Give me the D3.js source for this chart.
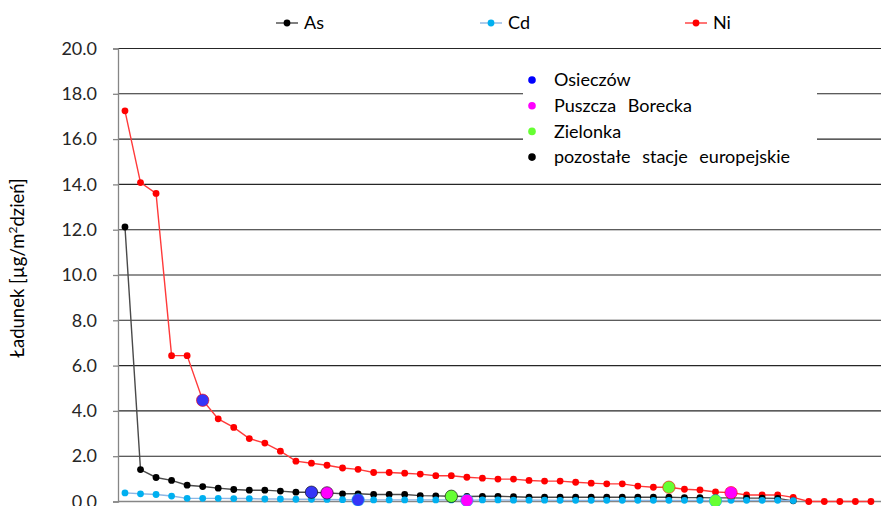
<!DOCTYPE html>
<html>
<head>
<meta charset="utf-8">
<script src="https://cdn.jsdelivr.net/npm/d3@7/dist/d3.min.js"></script>
<style>
  html, body { margin: 0; padding: 0; background: #fff; }
  svg { display: block; font-family: Lato, "Open Sans", sans-serif; }
</style>
</head>
<body>
<svg id="chart" width="881" height="506"></svg>
<script>
// Station ranks along the x axis (each series sorted in descending order)
const ranks = d3.range(1, 50);

// Deposition [µg/m²·day] per series, sorted descending
const niValues = [17.25, 14.08, 13.60, 6.44, 6.44, 4.47, 3.65, 3.27, 2.78, 2.58,
  2.22, 1.78, 1.69, 1.60, 1.48, 1.42, 1.28, 1.28, 1.25, 1.21,
  1.14, 1.14, 1.07, 1.03, 0.99, 0.99, 0.93, 0.90, 0.90, 0.85,
  0.81, 0.78, 0.78, 0.68, 0.63, 0.63, 0.54, 0.51, 0.42, 0.39,
  0.29, 0.29, 0.29, 0.18, 0.00, 0.00, 0.00, 0.00, 0.00];
const asValues = [12.12, 1.41, 1.06, 0.93, 0.72, 0.66, 0.59, 0.53, 0.50, 0.50,
  0.46, 0.41, 0.41, 0.38, 0.34, 0.34, 0.31, 0.31, 0.31, 0.26,
  0.25, 0.23, 0.22, 0.23, 0.23, 0.21, 0.19, 0.19, 0.19, 0.19,
  0.19, 0.19, 0.19, 0.19, 0.19, 0.19, 0.17, 0.17, 0.16, 0.16,
  0.15, 0.15, 0.14, 0.03];
const cdValues = [0.38, 0.34, 0.31, 0.24, 0.14, 0.14, 0.14, 0.13, 0.13, 0.11,
  0.11, 0.10, 0.10, 0.09, 0.08, 0.07, 0.07, 0.07, 0.07, 0.07,
  0.07, 0.07, 0.05, 0.07, 0.07, 0.06, 0.06, 0.06, 0.05, 0.05,
  0.05, 0.05, 0.05, 0.05, 0.05, 0.05, 0.05, 0.05, 0.03, 0.05,
  0.05, 0.05, 0.05, 0.04];

// Highlighted stations and their position (0-based rank) in each series
const stationNames = ["Osieczów", "Puszcza Borecka", "Zielonka", "pozostałe stacje europejskie"];
const stationColors = ["#0000FF", "#FF00FF", "#66FF33", "#000000"];
const markerFills = ["#3535F8", "#FF00FF", "#66FF33"];
const niStations = [5, 39, 35];
const asStations = [12, 13, 21];
const cdStations = [15, 22, 38];

const yTicks = [0, 2, 4, 6, 8, 10, 12, 14, 16, 18, 20];

const seriesNames = ["As", "Cd", "Ni"];
const seriesColors = ["#000000", "#00B0F0", "#FF0000"];
const lineColors = ["#4a4a4a", "#8DB6E4", "#FF3A3A"];

const svg = d3.select("#chart");

const x = d3.scaleBand().domain(ranks).range([117.2, 878.7]).padding(0);
const y = d3.scaleLinear().domain([0, 20]).range([501.5, 48.5]);
const cx = i => x(ranks[i]) + x.bandwidth() / 2;

// Horizontal gridlines
svg.append("g")
  .selectAll("line")
  .data(yTicks.filter(t => t > 0))
  .join("line")
  .attr("x1", 118).attr("x2", 881)
  .attr("y1", d => y(d)).attr("y2", d => y(d))
  .attr("stroke", "#262626").attr("stroke-width", 1.1);

// Y axis
const yAxis = d3.axisLeft(y).tickValues(yTicks).tickFormat(d3.format(".1f")).tickSize(5).tickPadding(16);
const gy = svg.append("g").attr("transform", "translate(118,0)").call(yAxis);
gy.select(".domain").attr("stroke", "#868686").attr("stroke-width", 1.3);
gy.selectAll(".tick line").attr("stroke", "#868686").attr("stroke-width", 1.3);
gy.selectAll(".tick text")
  .attr("font-size", 18).attr("font-family", "Lato, sans-serif")
  .attr("fill", "#262626");

// X axis baseline
svg.append("line")
  .attr("x1", 118).attr("x2", 881)
  .attr("y1", y(0)).attr("y2", y(0))
  .attr("stroke", "#868686").attr("stroke-width", 1.3);

// Y axis title
const title = svg.append("text")
  .attr("transform", "translate(24,268) rotate(-90)")
  .attr("text-anchor", "middle")
  .attr("font-size", 18.5)
  .attr("fill", "#000");
title.append("tspan").text("Ładunek [µg/m");
title.append("tspan").attr("font-size", 12).attr("dy", -7).text("2");
title.append("tspan").attr("dy", 7).text("dzień]");

// Series: line + markers
const series = [
  { name: "Ni", values: niValues, stations: niStations, color: seriesColors[2], line: lineColors[2] },
  { name: "As", values: asValues, stations: asStations, color: seriesColors[0], line: lineColors[0] },
  { name: "Cd", values: cdValues, stations: cdStations, color: seriesColors[1], line: lineColors[1] }
];

const line = d3.line().x((d, i) => cx(i)).y(d => y(d));

series.forEach(s => {
  const g = svg.append("g");
  g.append("path")
    .attr("d", line(s.values))
    .attr("fill", "none")
    .attr("stroke", s.line)
    .attr("stroke-width", 1.4);
  g.selectAll("circle")
    .data(s.values)
    .join("circle")
    .attr("cx", (d, i) => cx(i))
    .attr("cy", d => y(d))
    .attr("r", 3.4)
    .attr("fill", s.color);
});

// Highlighted stations on each series
series.forEach(s => {
  svg.append("g")
    .selectAll("circle")
    .data(s.stations)
    .join("circle")
    .attr("cx", i => cx(i))
    .attr("cy", i => y(s.values[i]))
    .attr("r", 6.2)
    .attr("fill", (i, k) => markerFills[k])
    .attr("stroke", s.color)
    .attr("stroke-opacity", 0.6)
    .attr("stroke-width", 1);
});

// Top legend (series)
const legendX = [276, 480, 685];
const topLegend = svg.append("g");
seriesNames.forEach((n, k) => {
  const g = topLegend.append("g").attr("transform", `translate(${legendX[k]},23)`);
  g.append("line").attr("x1", 0).attr("x2", 22).attr("y1", 0).attr("y2", 0)
    .attr("stroke", lineColors[k]).attr("stroke-width", 1.4);
  g.append("circle").attr("cx", 11).attr("cy", 0).attr("r", 3.4).attr("fill", seriesColors[k]);
  g.append("text").attr("x", 28).attr("y", 0).attr("dy", "0.35em")
    .attr("font-size", 18).attr("fill", "#000").text(n);
});

// Station legend box
const box = svg.append("g");
box.append("rect").attr("x", 523).attr("y", 66).attr("width", 294).attr("height", 104).attr("fill", "#fff");
stationNames.forEach((n, k) => {
  const yy = 80 + k * 25.7;
  box.append("circle").attr("cx", 532).attr("cy", yy).attr("r", 3.8).attr("fill", stationColors[k]);
  box.append("text").attr("x", 554).attr("y", yy).attr("dy", "0.35em")
    .attr("font-size", 18).attr("word-spacing", 7).attr("fill", "#000").text(n);
});
</script>
</body>
</html>
